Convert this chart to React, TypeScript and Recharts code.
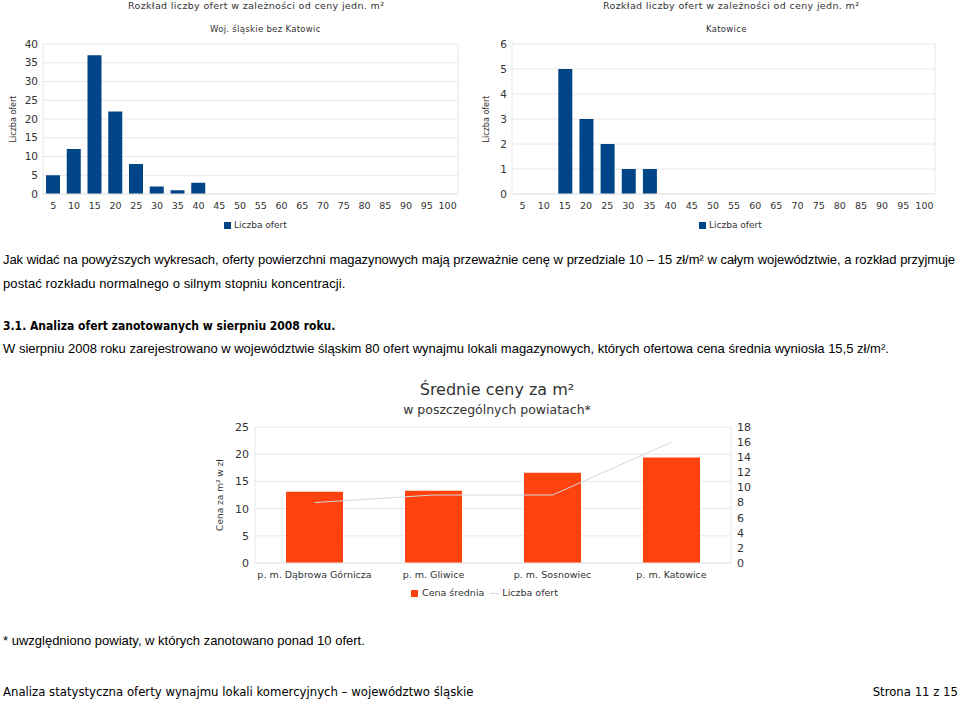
import React from 'react'
import {
  BarChart,
  Bar,
  ComposedChart,
  Line,
  XAxis,
  YAxis,
  CartesianGrid,
} from 'recharts'

const priceBins = ['5', '10', '15', '20', '25', '30', '35', '40', '45', '50', '55', '60', '65', '70', '75', '80', '85', '90', '95', '100']
const offersRegion = [5, 12, 37, 22, 8, 2, 1, 3, 0, 0, 0, 0, 0, 0, 0, 0, 0, 0, 0, 0]
const offersKatowice = [0, 0, 5, 3, 2, 1, 1, 0, 0, 0, 0, 0, 0, 0, 0, 0, 0, 0, 0, 0]
const regionTicks = [0, 5, 10, 15, 20, 25, 30, 35, 40]
const katowiceTicks = [0, 1, 2, 3, 4, 5, 6]

const districts = ['p. m. Dąbrowa Górnicza', 'p. m. Gliwice', 'p. m. Sosnowiec', 'p. m. Katowice']
const avgPrice = [13.1, 13.3, 16.6, 19.4]
const offerCount = [8, 9, 9, 16]
const priceTicks = [0, 5, 10, 15, 20, 25]
const countTicks = [0, 2, 4, 6, 8, 10, 12, 14, 16, 18]

const BLUE = '#004586'
const ORANGE = '#ff420e'
const LINE = '#d3d8de'
const GRID = '#e8e8e8'
const TEXT = '#333'
const chartFont = '"DejaVu Sans", Verdana, sans-serif'
const bodyFont = '"Liberation Sans", Arial, sans-serif'
const narrowFont = '"DejaVu Sans Condensed", "Liberation Sans Narrow", "Liberation Sans", sans-serif'

const regionData = priceBins.map((bin, i) => ({ bin, value: offersRegion[i] }))
const katowiceData = priceBins.map((bin, i) => ({ bin, value: offersKatowice[i] }))
const districtData = districts.map((name, i) => ({ name, price: avgPrice[i], count: offerCount[i] }))

const rightEdge = ({ offset }: any) => [offset.left + offset.width]

function Histogram({ data, ticks, axisWidth, rightMargin, labelOffset, width }: any) {
  return (
    <BarChart
      width={width}
      height={240}
      data={data}
      margin={{ top: 44, right: rightMargin, bottom: 26, left: 0 }}
    >
      <CartesianGrid stroke={GRID} vertical horizontal verticalCoordinatesGenerator={rightEdge} />
      <XAxis
        dataKey="bin"
        interval={0}
        tickLine={false}
        axisLine={{ stroke: GRID }}
        tick={{ fontSize: 9.5, fill: TEXT, fontFamily: chartFont }}
        height={20}
      />
      <YAxis
        width={axisWidth}
        domain={[0, ticks[ticks.length - 1]]}
        ticks={ticks}
        interval={0}
        tickLine={false}
        tickSize={3}
        axisLine={{ stroke: GRID }}
        tick={{ fontSize: 10.5, fill: TEXT, fontFamily: chartFont }}
        label={{
          value: 'Liczba ofert',
          angle: -90,
          position: 'insideLeft',
          offset: labelOffset,
          style: { textAnchor: 'middle', fontSize: 8, fill: TEXT, fontFamily: chartFont },
        }}
      />
      <Bar dataKey="value" fill={BLUE} barSize={14} isAnimationActive={false} />
    </BarChart>
  )
}

const abs = (left: number, top: number, extra: any = {}): React.CSSProperties => ({
  position: 'absolute',
  left,
  top,
  whiteSpace: 'nowrap',
  ...extra,
})

export default function App() {
  return (
    <div style={{ position: 'absolute', left: 0, top: 0, width: 960, height: 701, background: '#fff', overflow: 'hidden', color: '#000' }}>
      {/* top left histogram */}
      <div style={abs(0, 0)}>
        <Histogram data={regionData} ticks={regionTicks} axisWidth={43} rightMargin={12} labelOffset={13} width={470} />
      </div>
      <div style={abs(128, 0, { fontFamily: chartFont, fontSize: 9.5, color: TEXT, lineHeight: '12px', letterSpacing: 0.35 })}>
        Rozkład liczby ofert  w zależności od ceny jedn. m²
      </div>
      <div style={abs(210, 23, { fontFamily: chartFont, fontSize: 8.5, color: TEXT, lineHeight: '12px', letterSpacing: 0.3 })}>
        Woj. śląskie bez Katowic
      </div>
      <div style={abs(224, 219, { fontFamily: chartFont, fontSize: 9, color: TEXT, lineHeight: '12px', display: 'flex', alignItems: 'center' })}>
        <span style={{ width: 7, height: 7, background: BLUE, display: 'inline-block', marginRight: 3 }} />
        Liczba ofert
      </div>

      {/* top right histogram */}
      <div style={abs(480, 0)}>
        <Histogram data={katowiceData} ticks={katowiceTicks} axisWidth={32} rightMargin={15} labelOffset={6} width={470} />
      </div>
      <div style={abs(603, 0, { fontFamily: chartFont, fontSize: 9.5, color: TEXT, lineHeight: '12px', letterSpacing: 0.35 })}>
        Rozkład liczby ofert  w zależności od ceny jedn. m²
      </div>
      <div style={abs(706, 23, { fontFamily: chartFont, fontSize: 8.5, color: TEXT, lineHeight: '12px', letterSpacing: 0.3 })}>
        Katowice
      </div>
      <div style={abs(699, 219, { fontFamily: chartFont, fontSize: 9, color: TEXT, lineHeight: '12px', display: 'flex', alignItems: 'center' })}>
        <span style={{ width: 7, height: 7, background: BLUE, display: 'inline-block', marginRight: 3 }} />
        Liczba ofert
      </div>

      {/* body text */}
      <div style={abs(3, 252, { width: 952, fontFamily: bodyFont, fontSize: 13, lineHeight: '16px', letterSpacing: -0.09, textAlign: 'justify', textAlignLast: 'justify' })}>
        Jak widać na powyższych wykresach, oferty powierzchni magazynowych mają przeważnie cenę w przedziale 10 – 15 zł/m² w całym województwie, a rozkład przyjmuje
      </div>
      <div style={abs(3, 276, { fontFamily: bodyFont, fontSize: 13, lineHeight: '16px', letterSpacing: 0.1 })}>
        postać rozkładu normalnego o silnym stopniu koncentracji.
      </div>
      <div style={abs(3, 318, { fontFamily: narrowFont, fontSize: 12, fontWeight: 'bold', lineHeight: '16px' })}>
        3.1. Analiza ofert zanotowanych w sierpniu 2008 roku.
      </div>
      <div style={abs(3, 341, { fontFamily: bodyFont, fontSize: 13, lineHeight: '16px' })}>
        W sierpniu 2008 roku zarejestrowano w województwie śląskim 80 ofert wynajmu lokali magazynowych, których ofertowa cena średnia wyniosła 15,5 zł/m².
      </div>

      {/* district chart */}
      <div style={abs(0, 380, { width: 960, textAlign: 'center', fontFamily: chartFont, color: TEXT })}>
        <div style={{ position: 'absolute', left: 0, width: 994, top: 0, fontSize: 16, lineHeight: '20px' }}>Średnie ceny za m²</div>
        <div style={{ position: 'absolute', left: 0, width: 994, top: 22, fontSize: 12.5, lineHeight: '16px' }}>w poszczególnych powiatach*</div>
      </div>
      <div style={abs(200, 415)}>
        <ComposedChart
          width={560}
          height={175}
          data={districtData}
          margin={{ top: 12, right: 0, bottom: 7, left: 10 }}
        >
          <CartesianGrid stroke={GRID} vertical={false} yAxisId="price" />
          <XAxis
            dataKey="name"
            interval={0}
            tickLine={false}
            axisLine={{ stroke: GRID }}
            tick={{ fontSize: 9.5, fill: TEXT, fontFamily: chartFont }}
            height={20}
          />
          <YAxis
            yAxisId="price"
            width={45}
            domain={[0, 25]}
            ticks={priceTicks}
            interval={0}
            tickLine={false}
            tickSize={4}
            axisLine={{ stroke: GRID }}
            tick={{ fontSize: 11, fill: TEXT, fontFamily: chartFont }}
            label={{
              value: 'Cena za m² w zł',
              angle: -90,
              position: 'insideLeft',
              offset: 10,
              style: { textAnchor: 'middle', fontSize: 9, fill: TEXT, fontFamily: chartFont },
            }}
          />
          <YAxis
            yAxisId="count"
            orientation="right"
            width={29}
            domain={[0, 18]}
            ticks={countTicks}
            interval={0}
            tickLine={false}
            tickSize={4}
            axisLine={{ stroke: GRID }}
            tick={{ fontSize: 11, fill: TEXT, fontFamily: chartFont }}
          />
          <Bar yAxisId="price" dataKey="price" fill={ORANGE} barSize={57} isAnimationActive={false} />
          <Line
            yAxisId="count"
            dataKey="count"
            stroke={LINE}
            strokeWidth={1}
            dot={false}
            type="linear"
            isAnimationActive={false}
          />
        </ComposedChart>
      </div>
      <div style={abs(411, 587, { fontFamily: chartFont, fontSize: 9.5, color: TEXT, lineHeight: '12px', display: 'flex', alignItems: 'center' })}>
        <span style={{ width: 7, height: 7, background: ORANGE, display: 'inline-block', marginRight: 4 }} />
        Cena średnia
        <span style={{ width: 9, height: 1, background: LINE, display: 'inline-block', marginLeft: 6, marginRight: 3 }} />
        Liczba ofert
      </div>

      {/* footnote and footer */}
      <div style={abs(3, 633, { fontFamily: bodyFont, fontSize: 13, lineHeight: '16px' })}>
        * uwzględniono powiaty, w których zanotowano ponad 10 ofert.
      </div>
      <div style={abs(3, 684, { fontFamily: narrowFont, fontSize: 13, lineHeight: '16px' })}>
        Analiza statystyczna oferty wynajmu lokali komercyjnych – województwo śląskie
      </div>
      <div style={abs(0, 684, { width: 958, textAlign: 'right', fontFamily: narrowFont, fontSize: 13, lineHeight: '16px' })}>
        Strona 11 z 15
      </div>
    </div>
  )
}
